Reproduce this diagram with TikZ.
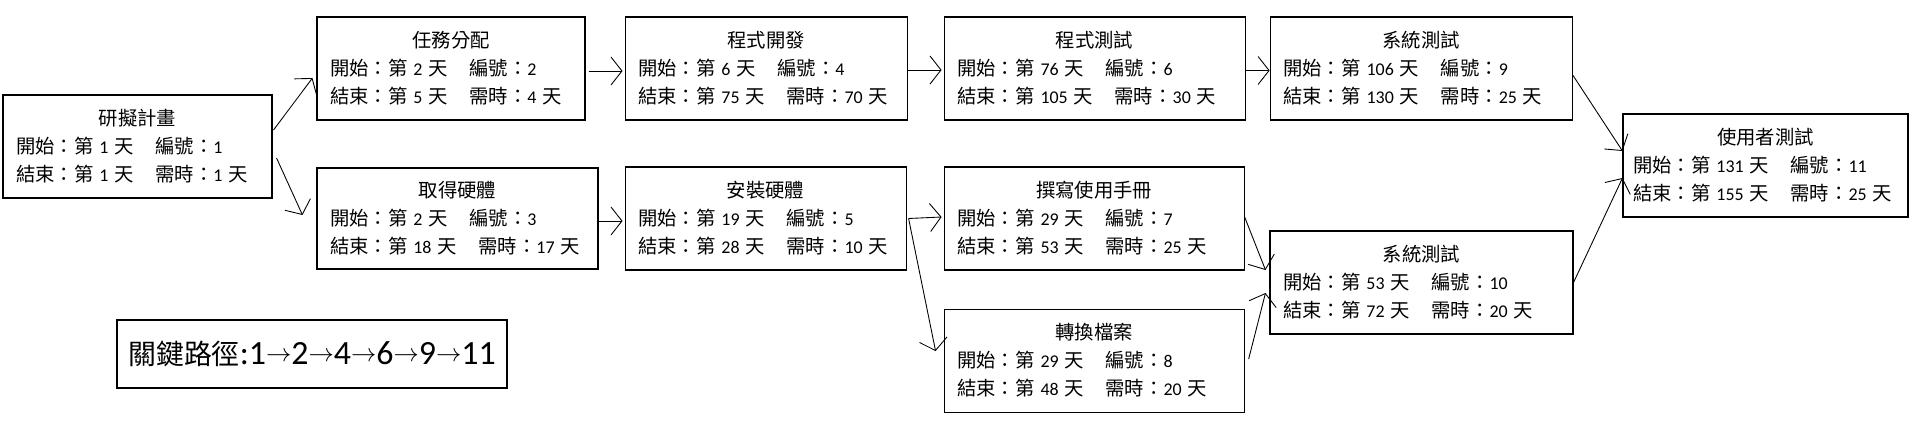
\documentclass[tikz,border=0pt]{standalone}
\usepackage{fontspec}
\setmainfont{Carlito}
\newfontfamily\cjk[Scale=1.08]{Noto Sans CJK TC}
\usetikzlibrary{arrows.meta,positioning}

\newcommand\taskinfo[5]{\hfill{\cjk #1}\hfill\null\\
  \mbox{{\cjk 開始：第} #2 {\cjk 天}\hspace{1.2em}{\cjk 編號：}#3}\\
  \mbox{{\cjk 結束：第} #4 {\cjk 天}\hspace{1.2em}{\cjk 需時：}#5 {\cjk 天}}}
\newcommand\cpto{\raisebox{2pt}{\fontsize{14.4pt}{14.4pt}\selectfont$\rightarrow$}}

\begin{document}
\begin{tikzpicture}[
  font=\fontsize{10.2pt}{15.9pt}\selectfont, >={Straight Barb[length=2.2mm,width=5.6mm]},
  task/.style={draw, line width=0.6pt, align=left, text width=#1, inner xsep=2.6mm, inner ysep=0pt, minimum height=20.6mm},
  link/.style={->, line width=0.5pt},
]
\useasboundingbox (0,0) rectangle (38.3,-8.58);

% Start
\node[task=4.86cm] (t1) at (2.75,-2.93) {\taskinfo{研擬計畫}{1}{1}{1}{1}};

% Upper branch
\node[task=4.84cm] (t2) at (9.02,-1.37) {\taskinfo{任務分配}{2}{2}{5}{4}};
\node[task=5.12cm, right=0.78cm of t2] (t4) {\taskinfo{程式開發}{6}{4}{75}{70}};
\node[task=5.50cm, right=0.72cm of t4] (t6) {\taskinfo{程式測試}{76}{6}{105}{30}};
\node[task=5.52cm, right=0.48cm of t6] (t9) {\taskinfo{系統測試}{106}{9}{130}{25}};

% Lower branch
\node[task=5.10cm, minimum height=20.2mm] (t3) at (9.15,-4.37) {\taskinfo{取得硬體}{2}{3}{18}{17}};
\node[task=5.10cm, right=0.52cm of t3] (t5) {\taskinfo{安裝硬體}{19}{5}{28}{10}};
\node[task=5.48cm, right=0.74cm of t5] (t7) {\taskinfo{撰寫使用手冊}{29}{7}{53}{25}};
\node[task=5.48cm, below=0.76cm of t7] (t8) {\taskinfo{轉換檔案}{29}{8}{48}{20}};
\node[task=5.54cm] (t10) at (28.43,-5.65) {\taskinfo{系統測試}{53}{10}{72}{20}};

% End
\node[task=5.30cm, inner xsep=2mm] (t11) at (35.31,-3.31) {\taskinfo{使用者測試}{131}{11}{155}{25}};

% Critical path
\node[draw, line width=0.6pt, minimum width=7.8cm, minimum height=1.36cm] (cp) at (6.24,-7.08)
  {{\fontsize{14.7pt}{18pt}\selectfont\cjk 關鍵路徑}{\fontsize{19.3pt}{22pt}\selectfont :1\cpto 2\cpto 4\cpto 6\cpto 9\cpto 11}};

\draw[link] ([xshift=0.02cm,yshift=0.33cm]t1.east) -- ([xshift=-0.08cm,yshift=-0.19cm]t2.west);
\draw[link] ([xshift=0.08cm,yshift=-0.23cm]t1.east) -- ([xshift=-0.28cm,yshift=0.07cm]t3.west);
\draw[link] ([xshift=0.06cm,yshift=-0.05cm]t2.east) -- ([xshift=-0.04cm,yshift=-0.05cm]t4.west);
\draw[link] ([yshift=-0.05cm]t3.east) -- ([xshift=-0.04cm,yshift=-0.05cm]t5.west);
\draw[link] ([yshift=-0.03cm]t4.east) -- ([xshift=-0.04cm,yshift=-0.03cm]t6.west);
\draw[link] ([yshift=-0.04cm]t6.east) -- ([yshift=-0.04cm]t9.west);
\draw[link] ([xshift=0.04cm]t5.east) -- ([xshift=-0.04cm,yshift=0.03cm]t7.west);
\draw[link] ([xshift=0.04cm]t5.east) -- ([xshift=-0.16cm,yshift=0.19cm]t8.west);
\draw[link] ([yshift=0.03cm]t7.east) -- ([xshift=-0.08cm,yshift=0.25cm]t10.west);
\draw[link] ([xshift=0.08cm,yshift=0.03cm]t8.east) -- ([xshift=-0.08cm,yshift=-0.21cm]t10.west);
\draw[link] ([yshift=-0.13cm]t9.east) -- ([yshift=0.29cm]t11.west);
\draw[link] (t10.east) -- ([yshift=-0.25cm]t11.west);

\end{tikzpicture}
\end{document}
